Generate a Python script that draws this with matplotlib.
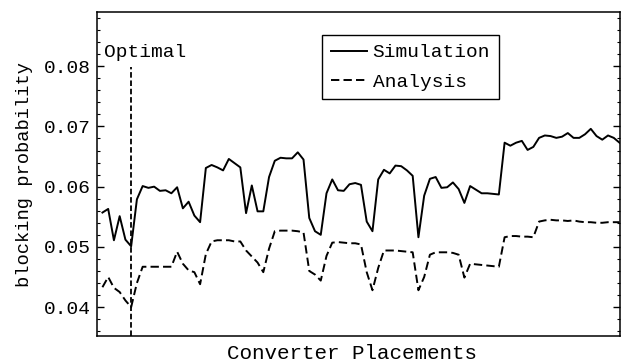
import matplotlib
matplotlib.use("agg")
import matplotlib.pyplot as plt
import numpy as np
from matplotlib.ticker import MultipleLocator, NullLocator

# blocking probability for each converter placement (1..91)
placements = np.arange(1, 92)

simulation = [
    0.0557, 0.0563, 0.0511, 0.0551, 0.0512, 0.0501, 0.0579, 0.0601, 0.0598, 0.0600,
    0.0593, 0.0594, 0.0589, 0.0599, 0.0564, 0.0575, 0.0552, 0.0541, 0.0631, 0.0636,
    0.0632, 0.0627, 0.0646, 0.0639, 0.0632, 0.0556, 0.0602, 0.0559, 0.0559, 0.0616,
    0.0643, 0.0648, 0.0647, 0.0647, 0.0657, 0.0645, 0.0548, 0.0526, 0.0520, 0.0589,
    0.0612, 0.0594, 0.0593, 0.0604, 0.0606, 0.0603, 0.0542, 0.0526, 0.0612, 0.0628,
    0.0622, 0.0635, 0.0634, 0.0627, 0.0618, 0.0516, 0.0585, 0.0613, 0.0616, 0.0598,
    0.0599, 0.0607, 0.0596, 0.0573, 0.0601, 0.0595, 0.0589, 0.0589, 0.0588, 0.0587,
    0.0673, 0.0668, 0.0673, 0.0676, 0.0661, 0.0666, 0.0681, 0.0685, 0.0684, 0.0681,
    0.0683, 0.0689, 0.0681, 0.0681, 0.0687, 0.0696, 0.0684, 0.0678, 0.0685, 0.0681,
    0.0673,
]

analysis = [
    0.0433, 0.0450, 0.0432, 0.0425, 0.0411, 0.0400, 0.0440, 0.0467, 0.0467, 0.0467,
    0.0467, 0.0467, 0.0467, 0.0492, 0.0472, 0.0461, 0.0458, 0.0438, 0.0488, 0.0509,
    0.0511, 0.0511, 0.0511, 0.0509, 0.0509, 0.0494, 0.0484, 0.0474, 0.0458, 0.0497,
    0.0526, 0.0527, 0.0527, 0.0527, 0.0526, 0.0524, 0.0460, 0.0454, 0.0444, 0.0485,
    0.0507, 0.0508, 0.0507, 0.0506, 0.0506, 0.0504, 0.0458, 0.0428, 0.0465, 0.0494,
    0.0494, 0.0494, 0.0493, 0.0492, 0.0491, 0.0428, 0.0450, 0.0487, 0.0491, 0.0491,
    0.0491, 0.0490, 0.0487, 0.0449, 0.0472, 0.0471, 0.0470, 0.0469, 0.0468, 0.0467,
    0.0516, 0.0518, 0.0518, 0.0517, 0.0517, 0.0516, 0.0542, 0.0544, 0.0545, 0.0544,
    0.0544, 0.0543, 0.0544, 0.0542, 0.0541, 0.0541, 0.0540, 0.0540, 0.0541, 0.0541,
    0.0541,
]

optimal_placement = 6
optimal_top = 0.0798

plt.rcParams["font.family"] = ["Liberation Mono", "DejaVu Sans Mono"]
plt.rcParams["lines.scale_dashes"] = False

fig = plt.figure(figsize=(6.21, 3.64), dpi=100)
ax = fig.add_axes([0.1557, 0.0769, 0.8419, 0.8901])

ax.plot(placements, simulation, color="black", lw=1.4, label="Simulation")
ax.plot(placements, analysis, color="black", lw=1.4, dashes=(6, 3), label="Analysis")

y_lo, y_hi = 0.0352, 0.089
ax.vlines(optimal_placement, y_lo, optimal_top, colors="black", lw=1.3,
          linestyles=[(0, (4, 2))])
ax.text(0.014, 0.862, "Optimal", transform=ax.transAxes, fontsize=14,
        ha="left", va="baseline")

ax.set_xlim(0, 91)
ax.set_ylim(y_lo, y_hi)

ax.xaxis.set_major_locator(NullLocator())
ax.xaxis.set_minor_locator(NullLocator())
ax.yaxis.set_major_locator(MultipleLocator(0.01))
ax.yaxis.set_minor_locator(MultipleLocator(0.002))
ax.tick_params(axis="y", which="both", direction="in", left=True, right=True,
               labelsize=14, pad=4.5)
ax.tick_params(axis="y", which="major", length=5, width=1)
ax.tick_params(axis="y", which="minor", length=2.5, width=0.8)

for spine in ax.spines.values():
    spine.set_linewidth(1.1)

ax.set_ylabel("blocking probability", fontsize=13.5)
ax.yaxis.set_label_coords(-0.122, 0.5)
ax.set_xlabel("Converter Placements", fontsize=15)
ax.xaxis.set_label_coords(0.488, -0.025)

leg = ax.legend(loc="upper left", bbox_to_anchor=(0.431, 0.929), fontsize=14,
                frameon=True, fancybox=False, edgecolor="black", framealpha=1,
                handlelength=1.85, handletextpad=0.3, borderpad=0.45,
                labelspacing=0.6, borderaxespad=0)
leg.get_frame().set_linewidth(1.0)

fig.savefig("out.png", dpi=100)
